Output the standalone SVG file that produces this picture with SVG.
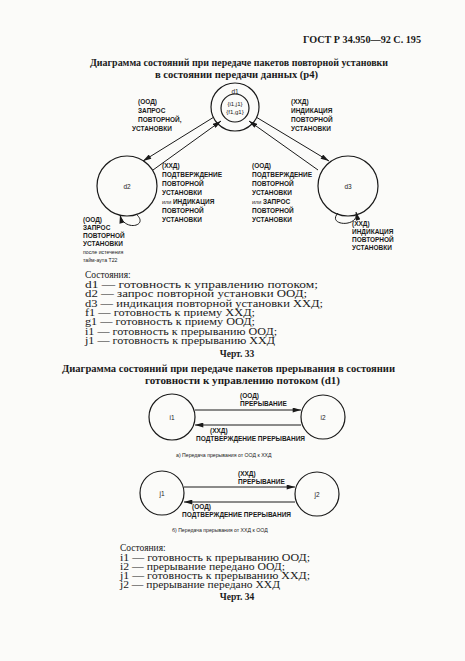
<svg xmlns="http://www.w3.org/2000/svg" width="465" height="661" viewBox="0 0 465 661">
<style>
.bg{fill:#fbfbf9}
.nd{fill:none;stroke:#1a1a1a;stroke-width:1.2}
.ln{fill:none;stroke:#1a1a1a;stroke-width:1}
.lb{font-family:"Liberation Sans",Arial,sans-serif;font-size:6.5px;font-weight:bold;fill:#1a1a1a}
.sm{font-family:"Liberation Sans",Arial,sans-serif;font-size:5.2px;fill:#1a1a1a}
.nt{font-family:"Liberation Sans",Arial,sans-serif;font-size:6.5px;fill:#1a1a1a;text-anchor:middle}
.tt{font-family:"Liberation Serif","Times New Roman",serif;font-size:10px;font-weight:bold;fill:#1a1a1a}
.lg{font-family:"Liberation Serif","Times New Roman",serif;font-size:9.5px;fill:#1a1a1a}
</style>
<defs>
<marker id="ah" viewBox="0 0 10 6" refX="10" refY="3" markerWidth="9" markerHeight="5" markerUnits="userSpaceOnUse" orient="auto">
<path d="M0,0 L10,3 L0,6 z" fill="#1a1a1a"/>
</marker>
</defs>
<rect class="bg" x="0" y="0" width="465" height="661"/>
<text class="tt" x="303" y="43" textLength="118" lengthAdjust="spacingAndGlyphs">ГОСТ Р 34.950—92 С. 195</text>
<text class="tt" x="90" y="66" textLength="298" lengthAdjust="spacingAndGlyphs">Диаграмма состояний при передаче пакетов повторной установки</text>
<text class="tt" x="155" y="78" textLength="163" lengthAdjust="spacingAndGlyphs">в состоянии передачи данных (р4)</text>

<g id="connectors">
<line class="ln" x1="214" y1="117" x2="143" y2="161" marker-end="url(#ah)"/>
<line class="ln" x1="153" y1="170" x2="221" y2="121" marker-end="url(#ah)"/>
<line class="ln" x1="256" y1="117" x2="329" y2="161" marker-end="url(#ah)"/>
<line class="ln" x1="318" y1="170" x2="249" y2="121" marker-end="url(#ah)"/>
<path class="ln" d="M136,214 C150,226 124,232 120,215" marker-end="url(#ah)"/>
<path class="ln" d="M338,213 C326,226 360,228 356,212" marker-end="url(#ah)"/>
<line class="ln" x1="195" y1="410" x2="301" y2="410" marker-end="url(#ah)"/>
<line class="ln" x1="301" y1="425" x2="195" y2="425" marker-end="url(#ah)"/>
<line class="ln" x1="184" y1="487" x2="295" y2="487" marker-end="url(#ah)"/>
<line class="ln" x1="295" y1="502" x2="184" y2="502" marker-end="url(#ah)"/>
</g>

<g id="d1">
<circle class="nd" cx="235" cy="107" r="24"/>
<circle class="nd" cx="235" cy="108" r="14"/>
<text class="nt" x="235" y="94">d1</text>
<text class="nt" x="235" y="106" style="font-size:6px">{i1,j1}</text>
<text class="nt" x="235" y="114" style="font-size:6px">{f1,g1}</text>
</g>
<g id="d2">
<circle class="nd" cx="127" cy="186" r="30"/>
<text class="nt" x="127" y="189">d2</text>
</g>
<g id="d3">
<circle class="nd" cx="348" cy="186" r="30"/>
<text class="nt" x="348" y="189">d3</text>
</g>

<g id="labels1">
<text class="lb" x="138" y="104">(ООД)</text>
<text class="lb" x="138" y="113">ЗАПРОС</text>
<text class="lb" x="138" y="122">ПОВТОРНОЙ,</text>
<text class="lb" x="132" y="131">УСТАНОВКИ</text>
<text class="lb" x="291" y="104">(ХХД)</text>
<text class="lb" x="291" y="113">ИНДИКАЦИЯ</text>
<text class="lb" x="291" y="122">ПОВТОРНОЙ</text>
<text class="lb" x="291" y="131">УСТАНОВКИ</text>
<text class="lb" x="162" y="168">(ХХД)</text>
<text class="lb" x="162" y="177">ПОДТВЕРЖДЕНИЕ</text>
<text class="lb" x="162" y="186">ПОВТОРНОЙ</text>
<text class="lb" x="162" y="195">УСТАНОВКИ</text>
<text class="lb" x="162" y="204"><tspan style="font-weight:normal;font-size:5.5px">или </tspan>ИНДИКАЦИЯ</text>
<text class="lb" x="162" y="213">ПОВТОРНОЙ</text>
<text class="lb" x="162" y="222">УСТАНОВКИ</text>
<text class="lb" x="252" y="168">(ООД)</text>
<text class="lb" x="252" y="177">ПОДТВЕРЖДЕНИЕ</text>
<text class="lb" x="252" y="186">ПОВТОРНОЙ</text>
<text class="lb" x="252" y="195">УСТАНОВКИ</text>
<text class="lb" x="252" y="204"><tspan style="font-weight:normal;font-size:5.5px">или </tspan>ЗАПРОС</text>
<text class="lb" x="252" y="213">ПОВТОРНОЙ</text>
<text class="lb" x="252" y="222">УСТАНОВКИ</text>
<text class="lb" x="83" y="222">(ООД)</text>
<text class="lb" x="83" y="230">ЗАПРОС</text>
<text class="lb" x="83" y="238">ПОВТОРНОЙ</text>
<text class="lb" x="83" y="246">УСТАНОВКИ</text>
<text class="sm" x="83" y="254">после истечения</text>
<text class="sm" x="83" y="262">тайм-аута Т22</text>
<text class="lb" x="352" y="226">(ХХД)</text>
<text class="lb" x="352" y="234">ИНДИКАЦИЯ</text>
<text class="lb" x="352" y="242">ПОВТОРНОЙ</text>
<text class="lb" x="352" y="250">УСТАНОВКИ</text>
</g>

<g id="legend1">
<text class="lg" x="85" y="278">Состояния:</text>
<text class="lg" x="85" y="288" textLength="233" lengthAdjust="spacingAndGlyphs">d1 — готовность к управлению потоком;</text>
<text class="lg" x="85" y="297" textLength="222" lengthAdjust="spacingAndGlyphs">d2 — запрос повторной установки ООД;</text>
<text class="lg" x="85" y="307" textLength="238" lengthAdjust="spacingAndGlyphs">d3 — индикация повторной установки ХХД;</text>
<text class="lg" x="85" y="316" textLength="170" lengthAdjust="spacingAndGlyphs">f1 — готовность к приему ХХД;</text>
<text class="lg" x="85" y="325" textLength="170" lengthAdjust="spacingAndGlyphs">g1 — готовность к приему ООД;</text>
<text class="lg" x="85" y="335" textLength="192" lengthAdjust="spacingAndGlyphs">i1 — готовность к прерыванию ООД;</text>
<text class="lg" x="85" y="344" textLength="190" lengthAdjust="spacingAndGlyphs">j1 — готовность к прерыванию ХХД</text>
<text class="lg" x="237" y="357" text-anchor="middle" style="font-weight:bold">Черт. 33</text>
</g>

<text class="tt" x="62" y="372" textLength="333" lengthAdjust="spacingAndGlyphs">Диаграмма состояний при передаче пакетов прерывания в состоянии</text>
<text class="tt" x="145" y="384" textLength="195" lengthAdjust="spacingAndGlyphs">готовности к управлению потоком (d1)</text>

<g id="i1">
<circle class="nd" cx="172" cy="417" r="23"/>
<text class="nt" x="172" y="420">i1</text>
</g>
<g id="i2">
<circle class="nd" cx="323" cy="417" r="22"/>
<text class="nt" x="323" y="420">i2</text>
</g>
<g id="labels2">
<text class="lb" x="240" y="398">(ООД)</text>
<text class="lb" x="240" y="406">ПРЕРЫВАНИЕ</text>
<text class="lb" x="210" y="433">(ХХД)</text>
<text class="lb" x="196" y="441">ПОДТВЕРЖДЕНИЕ ПРЕРЫВАНИЯ</text>
<text class="sm" x="176" y="457">а) Передача прерывания от ООД к ХХД</text>
<text class="lb" x="238" y="476">(ХХД)</text>
<text class="lb" x="238" y="484">ПРЕРЫВАНИЕ</text>
<text class="lb" x="192" y="509">(ООД)</text>
<text class="lb" x="182" y="517">ПОДТВЕРЖДЕНИЕ ПРЕРЫВАНИЯ</text>
<text class="sm" x="172" y="532">б) Передача прерывания от ХХД к ООД</text>
</g>
<g id="j1">
<circle class="nd" cx="162" cy="493" r="22"/>
<text class="nt" x="162" y="496">j1</text>
</g>
<g id="j2">
<circle class="nd" cx="317" cy="494" r="22"/>
<text class="nt" x="317" y="497">j2</text>
</g>

<g id="legend2">
<text class="lg" x="120" y="551">Состояния:</text>
<text class="lg" x="120" y="561" textLength="190" lengthAdjust="spacingAndGlyphs">i1 — готовность к прерыванию ООД;</text>
<text class="lg" x="120" y="570" textLength="165" lengthAdjust="spacingAndGlyphs">i2 — прерывание передано ООД;</text>
<text class="lg" x="120" y="579" textLength="190" lengthAdjust="spacingAndGlyphs">j1 — готовность к прерыванию ХХД;</text>
<text class="lg" x="120" y="588" textLength="160" lengthAdjust="spacingAndGlyphs">j2 — прерывание передано ХХД</text>
<text class="lg" x="237" y="600" text-anchor="middle" style="font-weight:bold">Черт. 34</text>
</g>
</svg>
